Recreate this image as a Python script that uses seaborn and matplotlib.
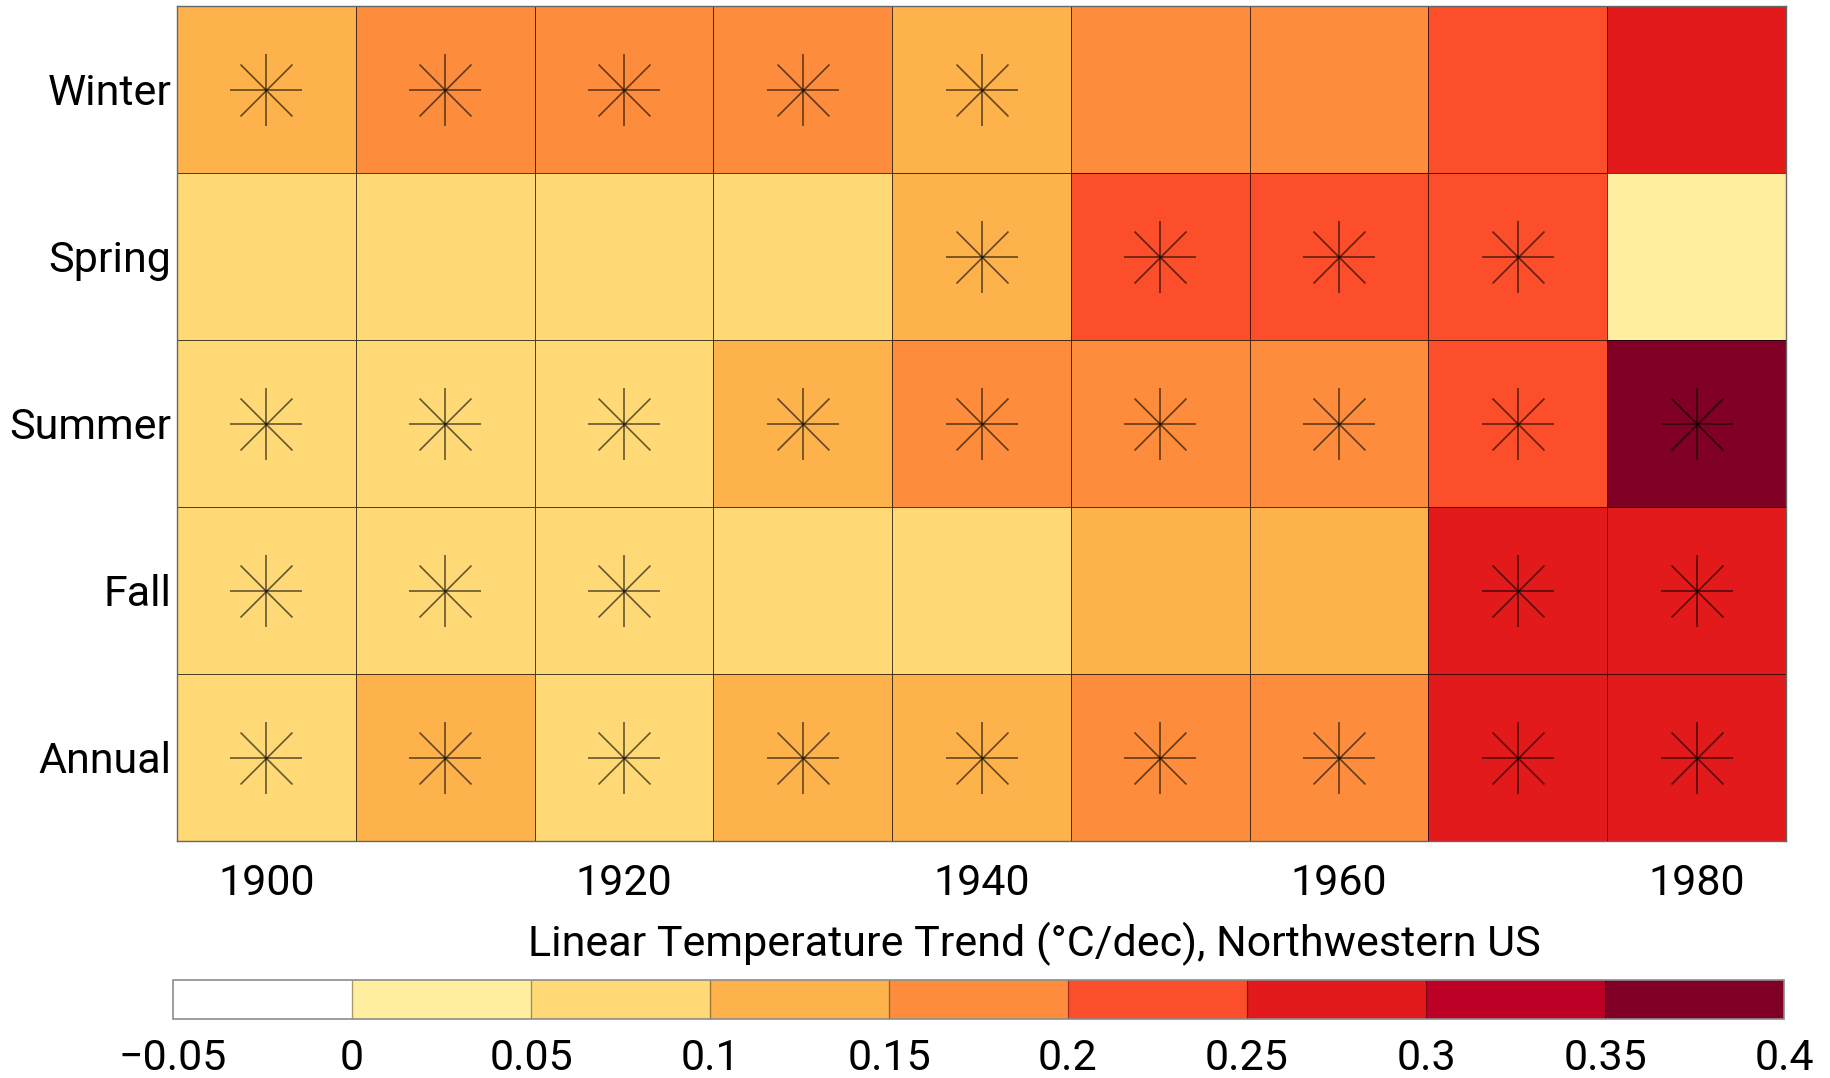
import numpy as np
import pandas as pd
import matplotlib
matplotlib.use("Agg")
import matplotlib.pyplot as plt
import matplotlib.transforms as mtransforms
import seaborn as sns
from matplotlib.colors import ListedColormap, BoundaryNorm

# ---------------- data ----------------
decades = [1900, 1910, 1920, 1930, 1940, 1950, 1960, 1970, 1980]
seasons = ["Winter", "Spring", "Summer", "Fall", "Annual"]

winter = [0.13, 0.17, 0.18, 0.17, 0.12, 0.16, 0.17, 0.22, 0.27]
spring = [0.07, 0.08, 0.07, 0.08, 0.13, 0.23, 0.22, 0.21, 0.03]
summer = [0.08, 0.08, 0.09, 0.12, 0.18, 0.17, 0.16, 0.21, 0.37]
fall = [0.08, 0.07, 0.08, 0.06, 0.07, 0.11, 0.12, 0.27, 0.26]
annual = [0.08, 0.12, 0.09, 0.13, 0.14, 0.18, 0.17, 0.26, 0.27]

sig_winter = [1, 1, 1, 1, 1, 0, 0, 0, 0]
sig_spring = [0, 0, 0, 0, 1, 1, 1, 1, 0]
sig_summer = [1, 1, 1, 1, 1, 1, 1, 1, 1]
sig_fall = [1, 1, 1, 0, 0, 0, 0, 1, 1]
sig_annual = [1, 1, 1, 1, 1, 1, 1, 1, 1]

bounds = [-0.05, 0, 0.05, 0.1, 0.15, 0.2, 0.25, 0.3, 0.35, 0.4]
bound_labels = ["\u22120.05", "0", "0.05", "0.1", "0.15", "0.2", "0.25", "0.3", "0.35", "0.4"]
colors = ["#ffffff", "#ffeda0", "#fed976", "#feb24c", "#fd8d3c",
          "#fc4e2a", "#e31a1c", "#bd0026", "#800026"]

df = pd.DataFrame([winter, spring, summer, fall, annual], index=seasons, columns=decades)
sig = pd.DataFrame([sig_winter, sig_spring, sig_summer, sig_fall, sig_annual],
                   index=seasons, columns=decades)

# ---------------- plot ----------------
sns.set_theme(style="white")
plt.rcParams["font.family"] = ["Roboto", "DejaVu Sans"]

cmap = ListedColormap(colors)
norm = BoundaryNorm(bounds, cmap.N)

W, H = 1830, 1078
FS = 31
fig = plt.figure(figsize=(W / 100, H / 100), dpi=100)
ax = fig.add_axes([177 / W, 1 - 841 / H, 1609 / W, 835 / H])
cax = fig.add_axes([173 / W, 1 - 1019 / H, 1611 / W, 39 / H])

sns.heatmap(df, ax=ax, cmap=cmap, norm=norm, cbar_ax=cax,
            cbar_kws={"orientation": "horizontal", "drawedges": True},
            linewidths=0.6, linecolor=(0, 0, 0, 0.7))

# significance stars
rows, cols = np.nonzero(sig.values)
ax.scatter(cols + 0.5, rows + 0.5, marker="+", s=51.8 ** 2, linewidths=1.2,
           color="black", alpha=0.6, zorder=3)
ax.scatter(cols + 0.5, rows + 0.5, marker="x", s=37.4 ** 2, linewidths=1.2,
           color="black", alpha=0.6, zorder=3)

ax.set_xticks(np.arange(0, len(decades), 2) + 0.5)
ax.set_xticklabels([str(d) for d in decades[::2]], rotation=0)
ax.set_yticks(np.arange(len(seasons)) + 0.5)
ax.set_yticklabels(seasons, rotation=0)
ax.tick_params(axis="x", length=0, pad=16, labelsize=FS, colors="black")
ax.tick_params(axis="y", length=0, pad=4, labelsize=FS, colors="black")
offset = mtransforms.ScaledTranslation(0, -3 / 72, fig.dpi_scale_trans)
for lbl in ax.get_yticklabels():
    lbl.set_transform(lbl.get_transform() + offset)
ax.set_xlabel("Linear Temperature Trend (\u00b0C/dec), Northwestern US",
              fontsize=FS, color="black")
ax.xaxis.set_label_coords(0.533, -0.097)
ax.set_ylabel("")
for s in ax.spines.values():
    s.set_visible(True)
    s.set_color("#666666")
    s.set_linewidth(1)

cb = ax.collections[0].colorbar
cb.set_ticks(bounds)
cb.set_ticklabels(bound_labels)
cb.outline.set_edgecolor("#8c8c8c")
cb.outline.set_linewidth(1.2)
cb.dividers.set_color((0, 0, 0, 0.35))
cb.dividers.set_linewidth(1)
cax.tick_params(length=0, pad=14, labelsize=FS, colors="black")

fig.savefig("out.png", dpi=100)
